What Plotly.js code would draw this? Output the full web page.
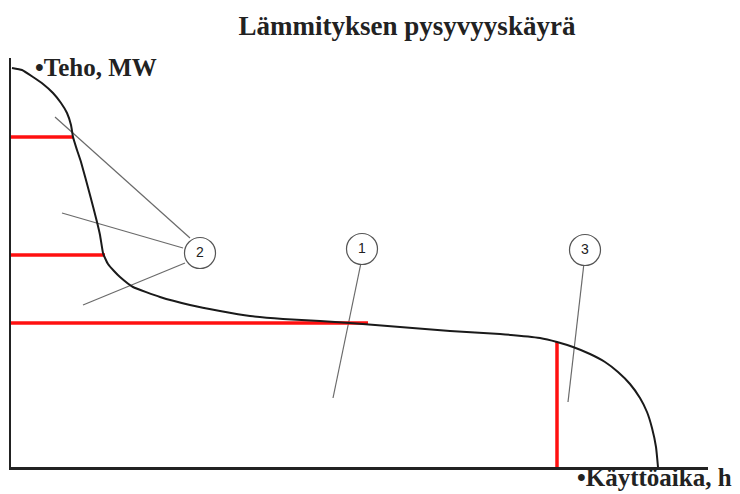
<!DOCTYPE html>
<html>
<head>
<meta charset="utf-8">
<script src="https://cdn.plot.ly/plotly-3.0.1.min.js"></script>
<style>html,body{margin:0;padding:0;background:#fff;}#chart{width:740px;height:494px;}</style>
</head>
<body>
<div id="chart"></div>
<script>
// Load duration curve (abstract units: time along x, power along y)
const curveX = [1,11,22,32,42,50,56,60,62,66,70,79,86,89,92,94,97,103,109,122,149,179,209,239,272,309,339,389,439,489,529,546,562,579,594,607,619,629,636,641,645,647];
const curveY = [399,397,390,383,374,364,354,342,330,317,305,272,245,232,214,209,203,196,190,180,170,162,156,151,148,146,144,140,136,133,129,125,120,113,105,95,83,69,55,39,20,0];

// Red capacity / time split lines
const redH1X = [-4, 62];   const redH1Y = [330, 330];
const redH2X = [-4, 94];   const redH2Y = [212, 212];
const redH3X = [-4, 357];  const redH3Y = [144, 144];
const redVX  = [546, 546]; const redVY  = [0, 125];

// Leader lines (segments separated by null)
const leaderX = [44,179,null,51,172,null,72,174,null,351,322,null,573,557];
const leaderY = [350,229,null,254,219,null,162,204,null,209,69,null,204,65];

// Numbered circle labels
const labelX = [189, 351, 574];
const labelY = [214, 218, 217];
const labelText = ['2', '1', '3'];

const titleText = 'Lämmityksen pysyvyyskäyrä';
const yLabel = '•Teho, MW';
const xLabel = '•Käyttöaika, h';

const W = 740, H = 494;
const serif = 'Liberation Serif, DejaVu Serif, serif';

function redTrace(x, y) {
  return {x: x, y: y, mode: 'lines', type: 'scatter', hoverinfo: 'skip',
          line: {color: '#ff1010', width: 3.5}, showlegend: false};
}

const traces = [
  {x: leaderX, y: leaderY, mode: 'lines', type: 'scatter', hoverinfo: 'skip',
   line: {color: '#6a6a6a', width: 1.2}, showlegend: false, connectgaps: false},
  redTrace(redH1X, redH1Y),
  redTrace(redH2X, redH2Y),
  redTrace(redH3X, redH3Y),
  redTrace(redVX, redVY),
  {x: curveX, y: curveY, mode: 'lines', type: 'scatter', hoverinfo: 'skip',
   line: {color: '#1a1a1a', width: 2, shape: 'spline', smoothing: 0.4}, showlegend: false},
  {x: labelX, y: labelY, mode: 'markers+text', type: 'scatter', text: labelText,
   textposition: 'middle center', textfont: {family: 'Liberation Sans, Arial, sans-serif', size: 14, color: '#222'},
   marker: {symbol: 'circle', size: 31, color: 'rgba(255,255,255,1)', line: {color: '#555', width: 1.2}},
   hoverinfo: 'skip', showlegend: false}
];

const layout = {
  width: W, height: H,
  margin: {l: 0, r: 0, t: 0, b: 0},
  paper_bgcolor: '#fff', plot_bgcolor: '#fff',
  title: {text: '<b>' + titleText + '</b>', font: {family: serif, size: 27, color: '#222'},
          x: 407 / W, y: 1 - 26 / H, xref: 'paper', yref: 'container', xanchor: 'center', yanchor: 'middle'},
  xaxis: {domain: [11 / W, 708 / W], range: [0, 697], showgrid: false, zeroline: false,
          showticklabels: false, ticks: '', showline: true, linecolor: '#222', linewidth: 2.5, fixedrange: true},
  yaxis: {domain: [27 / H, 436 / H], range: [0, 409], showgrid: false, zeroline: false,
          showticklabels: false, ticks: '', showline: true, linecolor: '#222', linewidth: 2.5, fixedrange: true},
  annotations: [
    {text: '<b>' + yLabel + '</b>', xref: 'paper', yref: 'paper', x: 33 / W, y: 1 - 67 / H,
     xanchor: 'left', yanchor: 'middle', showarrow: false, font: {family: serif, size: 25, color: '#222'}},
    {text: '<b>' + xLabel + '</b>', xref: 'paper', yref: 'paper', x: 575 / W, y: 1 - 477 / H,
     xanchor: 'left', yanchor: 'middle', showarrow: false, font: {family: serif, size: 25, color: '#222'}}
  ]
};

Plotly.newPlot('chart', traces, layout, {displayModeBar: false, staticPlot: true});
</script>
</body>
</html>
